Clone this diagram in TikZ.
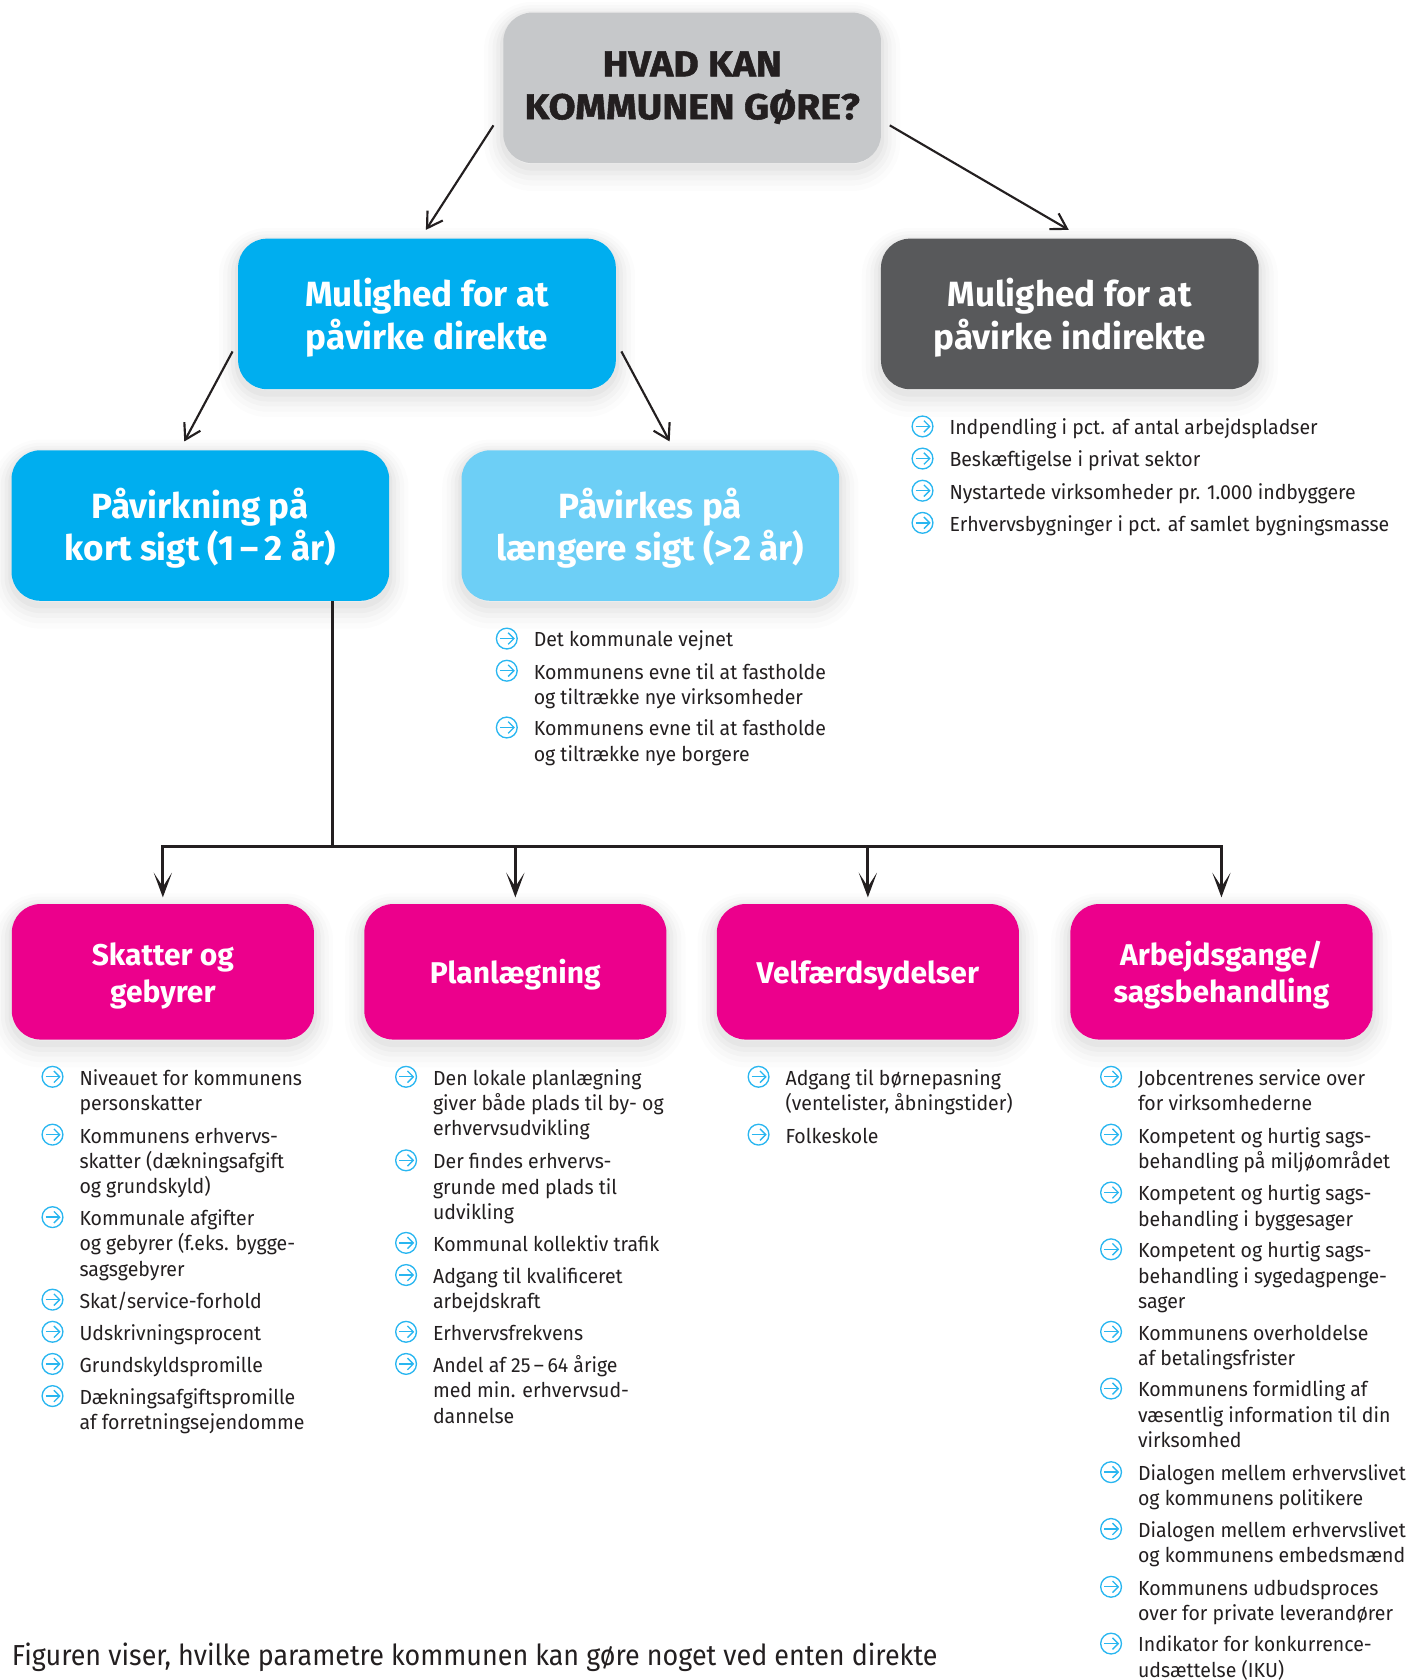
\documentclass[tikz,border=0pt]{standalone}
\usepackage{fontspec}
\setmainfont{Fira Sans}
\newfontfamily\bodyfont[FakeStretch=.958]{Fira Sans}
\newfontfamily\capfont[FakeStretch=.93]{Fira Sans}
\newfontfamily\headfont[FakeStretch=1.09,FakeBold=1.5]{Fira Sans Bold}
\usetikzlibrary{arrows.meta,calc}
\definecolor{ink}{HTML}{231F20}
\definecolor{cgrey}{HTML}{C6C8CA}
\definecolor{cblue}{HTML}{00AEEF}
\definecolor{clight}{HTML}{6DCFF6}
\definecolor{cdark}{HTML}{58595B}
\definecolor{cpink}{HTML}{EC008C}
\definecolor{cicon}{HTML}{29B6F0}
\tikzset{
  softshadow/.style={
    preaction={draw=black,draw opacity=.010,line width=36pt,transform canvas={yshift=-8pt}},
    preaction={draw=black,draw opacity=.014,line width=28pt,transform canvas={yshift=-7pt}},
    preaction={draw=black,draw opacity=.018,line width=20pt,transform canvas={yshift=-6pt}},
    preaction={draw=black,draw opacity=.022,line width=13pt,transform canvas={yshift=-5pt}},
    preaction={draw=black,draw opacity=.026,line width=6pt,transform canvas={yshift=-4pt}}},
  textpad/.style 2 args={execute at begin node={\rule{0pt}{#1}},execute at end node={\rule[-#2]{0pt}{0pt}}},
  bigbox/.style={softshadow,rounded corners=27pt,minimum width=352.5pt,minimum height=140.5pt,inner sep=0pt,align=center,
    text=white,font=\fontsize{32.7}{40}\selectfont\bfseries},
  colorbox/.style={bigbox,fill=#1,textpad={76pt}{10pt}},
  pinkbox/.style={softshadow,rounded corners=27pt,minimum width=282pt,minimum height=126.5pt,inner sep=0pt,align=center,
    fill=cpink,text=white,font=\fontsize{28}{35}\selectfont\bfseries},
  pinktwo/.style={pinkbox,textpad={66pt}{8pt}},
  pinkone/.style={pinkbox,textpad={30pt}{8pt}},
  itemtext/.style={anchor=north west,inner sep=0pt,align=left,text=ink,font=\bodyfont\fontsize{19}{23.7}\selectfont},
  thinarrow/.style={draw=ink,line width=2pt,-{Straight Barb[length=14pt,width=17pt,line width=2pt]}},
  trunkline/.style={draw=ink,line width=3pt},
  dropline/.style={draw=ink,line width=2.6pt,-{Stealth[length=23pt,width=17pt,inset=13pt]}},
  iconmark/.pic={
    \draw[cicon,line width=1.25pt] (0,0) circle (9.7pt);
    \draw[cicon,line width=1.25pt] (-6.5,0) -- (6.5,0);
    \draw[cicon,line width=1.25pt,line join=miter] (1.3,-5.4) -- (6.7,0) -- (1.3,5.4);
  }
}
\newcommand{\bitem}[4]{%
  \pic at (#1-25,#2-1) {iconmark};
  \node[itemtext] (#3) at (#1,#2-10) {\strut #4};
}
\begin{document}
\begin{tikzpicture}[x=1pt,y=-1pt]
\useasboundingbox (0,0) rectangle (1328.2,1568);
\node[bigbox,fill=cgrey,text=ink,font=\headfont\fontsize{33.5}{40}\selectfont,textpad={68pt}{9.5pt}] (top) at (646,82) {HVAD KAN\\KOMMUNEN GØRE?};
\node[colorbox=cblue] (direct) at (398.5,293) {Mulighed for at\\påvirke direkte};
\node[colorbox=cdark] (indirect) at (998.5,293) {Mulighed for at\\påvirke indirekte};
\node[colorbox=cblue] (short) at (187,490.5) {Påvirkning på\\kort sigt (1\,–\,2 år)};
\node[colorbox=clight] (long) at (607,490.5) {Påvirkes på\\længere sigt (>2 år)};
\node[pinktwo] (skat) at (152,907) {Skatter og\\gebyrer};
\node[pinkone] (plan) at (481,907) {Planlægning};
\node[pinkone] (velf) at (810,907) {Velfærdsydelser};
\node[pinktwo] (arb) at (1140,907) {Arbejdsgange/\\sagsbehandling};
\draw[thinarrow] ([shift={(-9,35)}]top.west) -- ([shift={(-1,-8)}]direct.north);
\draw[thinarrow] ([shift={(8,35)}]top.east) -- ([shift={(-1,-8)}]indirect.north);
\draw[thinarrow] ([shift={(-5,35)}]direct.west) -- ([shift={(-15,-8)}]short.north);
\draw[thinarrow] ([shift={(5,35)}]direct.east) -- ([shift={(18,-8)}]long.north);
\coordinate (jn) at (310.5,790);
\draw[trunkline] (short.south -| jn) -- (jn);
\draw[dropline] (jn) -| ([yshift=6pt]skat.north);
\draw[dropline] (jn) -| ([yshift=6pt]plan.north);
\draw[dropline] (jn) -| ([yshift=6pt]velf.north);
\draw[dropline] (jn) -| ([yshift=6pt]arb.north);
\bitem{886}{399}{a1}{Indpendling i pct. af antal arbejdspladser}
\bitem{886}{429}{a2}{Beskæftigelse i privat sektor}
\bitem{886}{459}{a3}{Nystartede virksomheder pr. 1.000 indbyggere}
\bitem{886}{489}{a4}{Erhvervsbygninger i pct. af samlet bygningsmasse}
\bitem{498}{597}{b1}{Det kommunale vejnet}
\bitem{498}{627}{b2}{Kommunens evne til at fastholde\\og tiltrække nye virksomheder}
\bitem{498}{680}{b3}{Kommunens evne til at fastholde\\og tiltrække nye borgere}
\bitem{74}{1006}{c1}{Niveauet for kommunens\\personskatter}
\bitem{74}{1060}{c2}{Kommunens erhvervs-\\skatter (dækningsafgift\\og grundskyld)}
\bitem{74}{1137}{c3}{Kommunale afgifter\\og gebyrer (f.eks. bygge-\\sagsgebyrer}
\bitem{74}{1214}{c4}{Skat/service-forhold}
\bitem{74}{1244}{c5}{Udskrivningsprocent}
\bitem{74}{1274}{c6}{Grundskyldspromille}
\bitem{74}{1304}{c7}{Dækningsafgiftspromille\\af forretningsejendomme}
\bitem{404}{1006}{d1}{Den lokale planlægning\\giver både plads til by- og\\erhvervsudvikling}
\bitem{404}{1084}{d2}{Der findes erhvervs-\\grunde med plads til\\udvikling}
\bitem{404}{1161}{d3}{Kommunal kollektiv trafik}
\bitem{404}{1191}{d4}{Adgang til kvalificeret\\arbejdskraft}
\bitem{404}{1244}{d5}{Erhvervsfrekvens}
\bitem{404}{1274}{d6}{Andel af 25\,–\,64 årige\\med min. erhvervsud-\\dannelse}
\bitem{733}{1006}{e1}{Adgang til børnepasning\\(ventelister, åbningstider)}
\bitem{733}{1060}{e2}{Folkeskole}
\bitem{1062}{1006}{f1}{Jobcentrenes service over\\for virksomhederne}
\bitem{1062}{1060}{f2}{Kompetent og hurtig sags-\\behandling på miljøområdet}
\bitem{1062}{1114}{f3}{Kompetent og hurtig sags-\\behandling i byggesager}
\bitem{1062}{1167}{f4}{Kompetent og hurtig sags-\\behandling i sygedagpenge-\\sager}
\bitem{1062}{1244}{f5}{Kommunens overholdelse\\af betalingsfrister}
\bitem{1062}{1297}{f6}{Kommunens formidling af\\væsentlig information til din\\virksomhed}
\bitem{1062}{1375}{f7}{Dialogen mellem erhvervslivet\\og kommunens politikere}
\bitem{1062}{1428}{f8}{Dialogen mellem erhvervslivet\\og kommunens embedsmænd}
\bitem{1062}{1482}{f9}{Kommunens udbudsproces\\over for private leverandører}
\bitem{1062}{1535}{f10}{Indikator for konkurrence-\\udsættelse (IKU)}
\node[itemtext,anchor=west,font=\capfont\fontsize{27}{32}\selectfont] (cap) at (11,1547) {Figuren viser, hvilke parametre kommunen kan gøre noget ved enten direkte};
\end{tikzpicture}
\end{document}
